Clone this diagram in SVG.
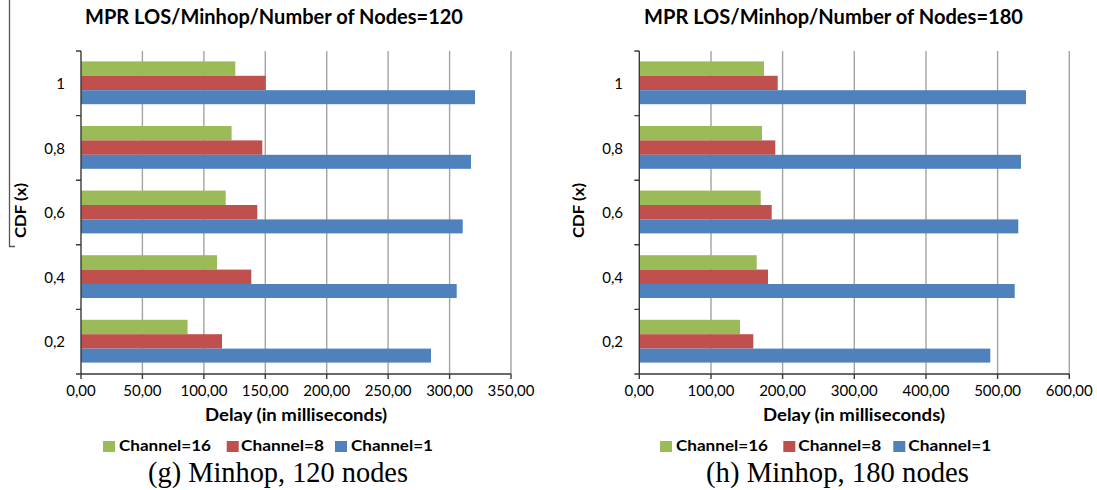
<svg xmlns="http://www.w3.org/2000/svg" width="1097" height="490" viewBox="0 0 1097 490">
<style>
text{font-family:Lato,"Liberation Sans",sans-serif;fill:#000}
.title{font-size:21px;font-weight:bold;text-anchor:middle}
.ylab{font-size:15px;text-anchor:end}
.xlab{font-size:15px;text-anchor:middle}
.axt{font-size:16.5px;font-weight:bold;text-anchor:middle}
.cdf{font-size:16px;font-weight:bold;text-anchor:middle}
.leg{font-size:16px;font-weight:bold}
.cap{font-family:"Liberation Serif",serif;font-size:29px;text-anchor:middle}
.grid{stroke:#a3a3a3;stroke-width:1.4;fill:none}
.axis{stroke:#3a3a3a;stroke-width:1.4;fill:none}
.g{fill:#9bbb59}.r{fill:#c0504d}.b{fill:#4f81bd}
</style>
<path d="M9.5 0V246.5H15" stroke="#555" stroke-width="1.3" fill="none"/>

<g id="chart-left">
<text class="title" x="274" y="24" textLength="378" lengthAdjust="spacingAndGlyphs">MPR LOS/Minhop/Number of Nodes=120</text>
<g class="grid">
<path d="M142.4 51V374M203.9 51V374M265.3 51V374M326.7 51V374M388.1 51V374M449.6 51V374M511 51V374"/>
</g>
<g id="bars-left">
<rect class="g" x="81" y="61.4" width="154.3" height="14.4"/>
<rect class="r" x="81" y="75.8" width="184.7" height="14.4"/>
<rect class="b" x="81" y="90.2" width="394" height="14"/>
<rect class="g" x="81" y="126" width="150.6" height="14.4"/>
<rect class="r" x="81" y="140.4" width="181.3" height="14.4"/>
<rect class="b" x="81" y="154.8" width="390" height="14"/>
<rect class="g" x="81" y="190.6" width="144.7" height="14.4"/>
<rect class="r" x="81" y="205" width="176.3" height="14.4"/>
<rect class="b" x="81" y="219.4" width="381.7" height="14"/>
<rect class="g" x="81" y="255.2" width="136" height="14.4"/>
<rect class="r" x="81" y="269.6" width="170.3" height="14.4"/>
<rect class="b" x="81" y="284" width="375.7" height="14"/>
<rect class="g" x="81" y="319.8" width="106.6" height="14.4"/>
<rect class="r" x="81" y="334.2" width="141" height="14.4"/>
<rect class="b" x="81" y="348.6" width="350" height="14"/>
</g>
<g class="axis">
<path d="M81 51V374H511"/>
<path d="M76 51H81M76 115.6H81M76 180.2H81M76 244.8H81M76 309.4H81M76 374H81"/>
<path d="M81 374V379M142.4 374V379M203.9 374V379M265.3 374V379M326.7 374V379M388.1 374V379M449.6 374V379M511 374V379"/>
</g>
<text class="ylab" x="65" y="89">1</text>
<text class="ylab" x="65" y="153.5">0,8</text>
<text class="ylab" x="65" y="218">0,6</text>
<text class="ylab" x="65" y="282.6">0,4</text>
<text class="ylab" x="65" y="347.2">0,2</text>
<text class="xlab" x="81" y="395.5">0,00</text>
<text class="xlab" x="142.4" y="395.5">50,00</text>
<text class="xlab" x="203.9" y="395.5">100,00</text>
<text class="xlab" x="265.3" y="395.5">150,00</text>
<text class="xlab" x="326.7" y="395.5">200,00</text>
<text class="xlab" x="388.1" y="395.5">250,00</text>
<text class="xlab" x="449.6" y="395.5">300,00</text>
<text class="xlab" x="511" y="395.5">350,00</text>
<text class="axt" x="296" y="420.5" textLength="182" lengthAdjust="spacingAndGlyphs">Delay (in milliseconds)</text>
<text class="cdf" transform="translate(25.5 210.5) rotate(-90)" textLength="55" lengthAdjust="spacingAndGlyphs">CDF (x)</text>
<g id="legend-left">
<rect class="g" x="103" y="441" width="12" height="11"/>
<text class="leg" x="119" y="451" textLength="92" lengthAdjust="spacingAndGlyphs">Channel=16</text>
<rect class="r" x="226.7" y="441" width="12" height="11"/>
<text class="leg" x="241" y="451" textLength="83" lengthAdjust="spacingAndGlyphs">Channel=8</text>
<rect class="b" x="335" y="441" width="12" height="11"/>
<text class="leg" x="351" y="451" textLength="82" lengthAdjust="spacingAndGlyphs">Channel=1</text>
</g>
<text class="cap" x="278" y="482" textLength="260" lengthAdjust="spacingAndGlyphs">(g) Minhop, 120 nodes</text>
</g>

<g id="chart-right">
<text class="title" x="833.5" y="24" textLength="379" lengthAdjust="spacingAndGlyphs">MPR LOS/Minhop/Number of Nodes=180</text>
<g class="grid">
<path d="M711 51V374M782.6 51V374M854.3 51V374M926 51V374M997.6 51V374M1069.3 51V374"/>
</g>
<g id="bars-right">
<rect class="g" x="639.3" y="61.4" width="124.7" height="14.4"/>
<rect class="r" x="639.3" y="75.8" width="138.4" height="14.4"/>
<rect class="b" x="639.3" y="90.2" width="386.7" height="14"/>
<rect class="g" x="639.3" y="126" width="122.7" height="14.4"/>
<rect class="r" x="639.3" y="140.4" width="136" height="14.4"/>
<rect class="b" x="639.3" y="154.8" width="381.7" height="14"/>
<rect class="g" x="639.3" y="190.6" width="121.4" height="14.4"/>
<rect class="r" x="639.3" y="205" width="132.4" height="14.4"/>
<rect class="b" x="639.3" y="219.4" width="379" height="14"/>
<rect class="g" x="639.3" y="255.2" width="117.4" height="14.4"/>
<rect class="r" x="639.3" y="269.6" width="128.7" height="14.4"/>
<rect class="b" x="639.3" y="284" width="375.4" height="14"/>
<rect class="g" x="639.3" y="319.8" width="100.7" height="14.4"/>
<rect class="r" x="639.3" y="334.2" width="114" height="14.4"/>
<rect class="b" x="639.3" y="348.6" width="351" height="14"/>
</g>
<g class="axis">
<path d="M639.3 51V374H1069.3"/>
<path d="M634.3 51H639.3M634.3 115.6H639.3M634.3 180.2H639.3M634.3 244.8H639.3M634.3 309.4H639.3M634.3 374H639.3"/>
<path d="M639.3 374V379M711 374V379M782.6 374V379M854.3 374V379M926 374V379M997.6 374V379M1069.3 374V379"/>
</g>
<text class="ylab" x="623" y="89">1</text>
<text class="ylab" x="623" y="153.5">0,8</text>
<text class="ylab" x="623" y="218">0,6</text>
<text class="ylab" x="623" y="282.6">0,4</text>
<text class="ylab" x="623" y="347.2">0,2</text>
<text class="xlab" x="639.3" y="395.5">0,00</text>
<text class="xlab" x="711" y="395.5">100,00</text>
<text class="xlab" x="782.6" y="395.5">200,00</text>
<text class="xlab" x="854.3" y="395.5">300,00</text>
<text class="xlab" x="926" y="395.5">400,00</text>
<text class="xlab" x="997.6" y="395.5">500,00</text>
<text class="xlab" x="1069.3" y="395.5">600,00</text>
<text class="axt" x="854" y="420.5" textLength="182" lengthAdjust="spacingAndGlyphs">Delay (in milliseconds)</text>
<text class="cdf" transform="translate(583.5 210.5) rotate(-90)" textLength="55" lengthAdjust="spacingAndGlyphs">CDF (x)</text>
<g id="legend-right">
<rect class="g" x="660" y="441" width="12" height="11"/>
<text class="leg" x="676" y="451" textLength="92" lengthAdjust="spacingAndGlyphs">Channel=16</text>
<rect class="r" x="783.3" y="441" width="12" height="11"/>
<text class="leg" x="798.3" y="451" textLength="83" lengthAdjust="spacingAndGlyphs">Channel=8</text>
<rect class="b" x="893.3" y="441" width="12" height="11"/>
<text class="leg" x="908.3" y="451" textLength="83" lengthAdjust="spacingAndGlyphs">Channel=1</text>
</g>
<text class="cap" x="837.5" y="482" textLength="263" lengthAdjust="spacingAndGlyphs">(h) Minhop, 180 nodes</text>
</g>
</svg>
